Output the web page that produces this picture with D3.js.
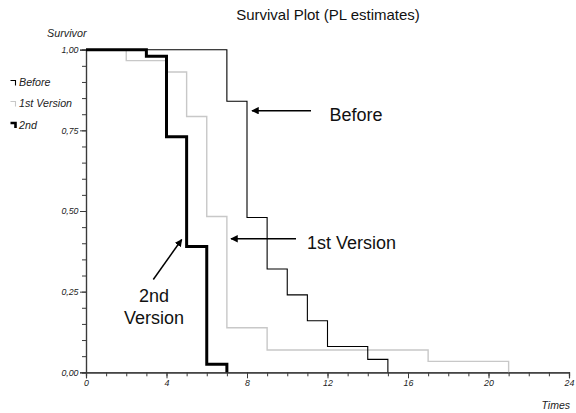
<!DOCTYPE html>
<html>
<head>
<meta charset="utf-8">
<script src="https://cdn.jsdelivr.net/npm/d3@7"></script>
<style>
  html, body { margin: 0; padding: 0; background: #fff; }
  svg { display: block; font-family: "Liberation Sans", Arial, sans-serif; }
</style>
</head>
<body>
<svg id="chart" width="576" height="413"></svg>
<script>
// Product-limit survival estimates, one step series per group
const beforeTimes = [0, 7, 8, 9, 10, 11, 12, 14, 15];
const beforeSurv  = [1, 0.84, 0.48, 0.32, 0.24, 0.16, 0.08, 0.04, 0];

const firstTimes = [0, 2, 4, 5, 6, 7, 9, 17, 21];
const firstSurv  = [1, 0.966, 0.931, 0.793, 0.483, 0.138, 0.069, 0.034, 0];

const secondTimes = [0, 3, 4, 5, 6, 7];
const secondSurv  = [1, 0.98, 0.73, 0.39, 0.025, 0];

const seriesNames = ["Before", "1st Version", "2nd"];
const xMajorTicks = [0, 4, 8, 12, 16, 20, 24];
const yMajorTicks = [0, 0.25, 0.5, 0.75, 1];

const svg = d3.select("#chart");
const x = d3.scaleLinear().domain([0, 24]).range([86, 569]);
const y = d3.scaleLinear().domain([0, 1]).range([372.3, 49.7]);

const axisColor = "#3a3a3a";
const commaFmt = v => d3.format(".2f")(v).replace(".", ",");

// minor ticks
const yMinor = svg.append("g").attr("transform", `translate(${x(0)},0)`)
  .call(d3.axisLeft(y).tickValues(d3.range(0, 1.0001, 0.05)).tickSize(4).tickFormat(""));
const xMinor = svg.append("g").attr("transform", `translate(0,${y(0)})`)
  .call(d3.axisBottom(x).tickValues(d3.range(0, 25, 1)).tickSize(4).tickFormat(""));

// major ticks with labels
const yAxis = svg.append("g").attr("transform", `translate(${x(0)},0)`)
  .call(d3.axisLeft(y).tickValues(yMajorTicks).tickSize(6).tickPadding(1.5).tickFormat(commaFmt));
const xAxis = svg.append("g").attr("transform", `translate(0,${y(0)})`)
  .call(d3.axisBottom(x).tickValues(xMajorTicks).tickSize(6).tickPadding(1.5).tickFormat(d3.format("d")));

[yMinor, xMinor, yAxis, xAxis].forEach(g => {
  g.selectAll("path.domain").attr("stroke", axisColor).attr("stroke-width", 1.2);
  g.selectAll(".tick line").attr("stroke", axisColor).attr("stroke-width", 1);
  g.selectAll("text").attr("font-size", 8.8).attr("font-style", "italic")
    .attr("fill", "#222").attr("font-family", "Liberation Sans, Arial, sans-serif");
});

// step lines
const line = d3.line().curve(d3.curveStepAfter).x(d => x(d[0])).y(d => y(d[1]));
const series = [
  { times: firstTimes,  surv: firstSurv,  color: "#c8c8c8", width: 1.4 },
  { times: beforeTimes, surv: beforeSurv, color: "#000",    width: 1.1 },
  { times: secondTimes, surv: secondSurv, color: "#000",    width: 3 }
];
series.forEach(s => {
  svg.append("path")
    .datum(d3.zip(s.times, s.surv))
    .attr("fill", "none")
    .attr("stroke", s.color)
    .attr("stroke-width", s.width)
    .attr("stroke-linejoin", "miter")
    .attr("d", line);
});

// title and axis titles
svg.append("text").attr("x", 328).attr("y", 20).attr("text-anchor", "middle")
  .attr("font-size", 15).attr("fill", "#111").text("Survival Plot (PL estimates)");
svg.append("text").attr("x", 47).attr("y", 36.5).attr("font-size", 10.8)
  .attr("font-style", "italic").attr("fill", "#222").text("Survivor");
svg.append("text").attr("x", 570).attr("y", 409).attr("text-anchor", "end").attr("font-size", 10.5)
  .attr("font-style", "italic").attr("fill", "#222").text("Times");

// legend
const legendStyle = [
  { color: "#000", width: 1.1, y: 80.5 },
  { color: "#c8c8c8", width: 1.1, y: 101.5 },
  { color: "#000", width: 2.6, y: 123 }
];
seriesNames.forEach((name, i) => {
  const s = legendStyle[i];
  svg.append("path")
    .attr("d", `M10.5,${s.y} H15.5 V${s.y + 5}`)
    .attr("fill", "none").attr("stroke", s.color).attr("stroke-width", s.width);
  svg.append("text").attr("x", 19).attr("y", s.y + 5.5)
    .attr("font-size", 10.7).attr("font-style", "italic").attr("fill", "#222").text(name);
});

// annotations with arrows
svg.append("defs").append("marker")
  .attr("id", "arrowhead").attr("viewBox", "0 0 10 10").attr("refX", 9).attr("refY", 5)
  .attr("markerWidth", 7.5).attr("markerHeight", 7.5).attr("markerUnits", "userSpaceOnUse")
  .attr("orient", "auto")
  .append("path").attr("d", "M0,0 L10,5 L0,10 z").attr("fill", "#000");

const arrows = [
  { x1: 311, y1: 110.7, x2: 252, y2: 110.7 },
  { x1: 296, y1: 238.8, x2: 231, y2: 238.8 },
  { x1: 153.3, y1: 279.5, x2: 181.7, y2: 239.5 }
];
arrows.forEach(a => {
  svg.append("line").attr("x1", a.x1).attr("y1", a.y1).attr("x2", a.x2).attr("y2", a.y2)
    .attr("stroke", "#000").attr("stroke-width", 1.5).attr("marker-end", "url(#arrowhead)");
});

const noteSize = 18;
svg.append("text").attr("x", 329.5).attr("y", 120.7).attr("font-size", noteSize).attr("fill", "#111").text("Before");
svg.append("text").attr("x", 307).attr("y", 249.3).attr("font-size", noteSize).attr("fill", "#111").text("1st Version");
svg.append("text").attr("x", 154).attr("y", 301.8).attr("text-anchor", "middle").attr("font-size", noteSize).attr("fill", "#111").text("2nd");
svg.append("text").attr("x", 154).attr("y", 324).attr("text-anchor", "middle").attr("font-size", noteSize).attr("fill", "#111").text("Version");
</script>
</body>
</html>
